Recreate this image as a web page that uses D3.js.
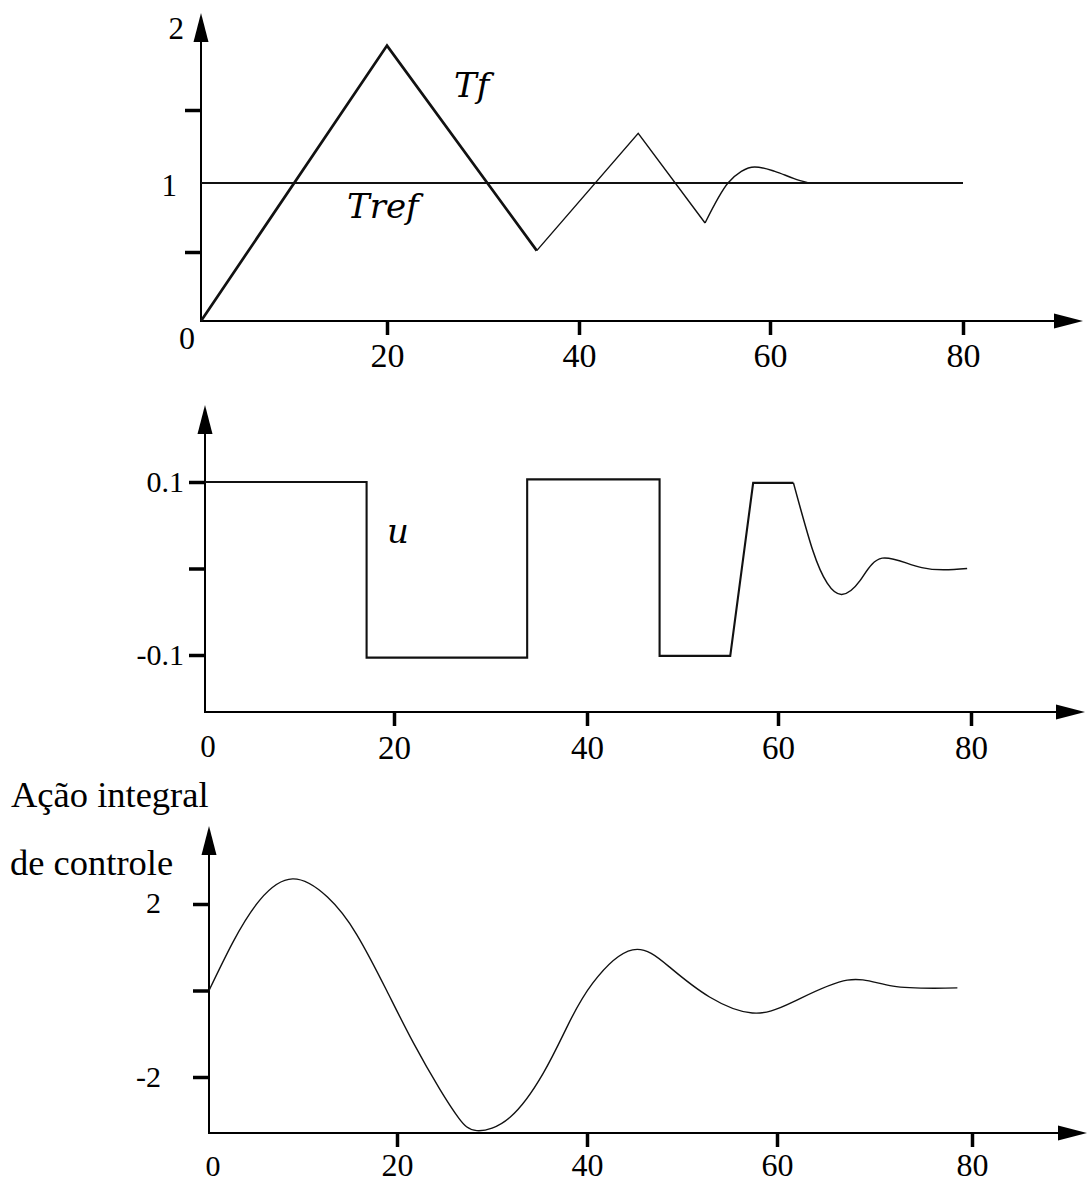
<!DOCTYPE html>
<html>
<head>
<meta charset="utf-8">
<script src="https://cdn.jsdelivr.net/npm/d3@7"></script>
<style>
  body { margin: 0; background: #fff; }
  svg text { font-family: "Liberation Serif", "Times New Roman", serif; fill: #000; }
  svg text.var { font-family: "DejaVu Serif", serif; font-style: italic; }
</style>
</head>
<body>
<div id="chart"></div>
<script>
// x ticks shared by the three panels
const xTicks = [20, 40, 60, 80];

// panel 1: Tf and Tref
const tfRampX = [0, 20.0, 35.6];
const tfRampY = [0, 1.96, 0.51];
const tfOscX = [35.6, 46.2, 53.2];
const tfOscY = [0.51, 1.34, 0.71];
const tfTailX = [53.2, 55.6, 57.0, 58.4, 60.5, 62.5, 64.0];
const tfTailY = [0.71, 1.0, 1.08, 1.11, 1.08, 1.03, 1.0];
const trefX = [0, 80];
const trefY = [1, 1];
const p1Ticks = [0.5, 1.5];

// panel 2: u
const uStepX = [0, 17.1, 17.1, 33.8, 33.8, 47.6, 47.6, 55.0, 57.4, 61.6];
const uStepY = [0.1, 0.1, -0.103, -0.103, 0.103, 0.103, -0.101, -0.101, 0.099, 0.099];
const uTailX = [61.6, 63.6, 65.1, 66.6, 68.5, 70.8, 74.9, 79.6];
const uTailY = [0.099, 0.021, -0.017, -0.030, -0.014, 0.012, 0.001, 0.0];
const p2Ticks = [-0.1, 0, 0.1];

// panel 3: integral control action
const intX = [0, 2.55, 5.4, 8.9, 12.6, 15.7, 18.9, 21.7, 24.5, 26.5, 28.4, 31.9, 35.4, 37.9, 40.6, 44.8, 48.7, 52.9, 57.4, 61.6, 67.2, 71.9, 78.5];
const intY = [0, 1.12, 2.09, 2.58, 2.16, 1.30, 0.0, -1.20, -2.28, -2.95, -3.24, -2.93, -1.91, -0.84, 0.17, 0.94, 0.54, -0.15, -0.52, -0.27, 0.24, 0.10, 0.06];
const p3Ticks = [-2, 0, 2];

const zip = (xs, ys) => xs.map((x, i) => [x, ys[i]]);

const svg = d3.select('#chart')
  .append('svg')
  .attr('width', 1087)
  .attr('height', 1182);

function drawFrame(p) {
  const g = svg.append('g');
  const x0 = p.x(0);

  // y axis + arrow
  g.append('line')
    .attr('x1', x0).attr('x2', x0)
    .attr('y1', p.axisY + 1).attr('y2', p.yTip + 20)
    .attr('stroke', '#000').attr('stroke-width', 2);
  g.append('path')
    .attr('d', `M${x0},${p.yTip}L${x0 - 7.5},${p.yTip + 29}L${x0 + 7.5},${p.yTip + 29}Z`)
    .attr('fill', '#000');

  // x axis + arrow
  g.append('line')
    .attr('x1', x0 - 1).attr('x2', p.xTip - 20)
    .attr('y1', p.axisY).attr('y2', p.axisY)
    .attr('stroke', '#000').attr('stroke-width', 2);
  g.append('path')
    .attr('d', `M${p.xTip},${p.axisY}L${p.xTip - 29},${p.axisY - 7.5}L${p.xTip - 29},${p.axisY + 7.5}Z`)
    .attr('fill', '#000');

  // x ticks
  const xa = g.append('g')
    .attr('transform', `translate(0,${p.axisY})`)
    .call(d3.axisBottom(p.x).tickValues(xTicks).tickSize(14).tickSizeOuter(0).tickPadding(p.xPad))
    .attr('font-family', null)
    .attr('font-size', p.xFont);
  xa.select('.domain').remove();
  xa.selectAll('.tick line').attr('stroke-width', 3.5);

  // y ticks
  const ya = g.append('g')
    .attr('transform', `translate(${x0},0)`)
    .call(d3.axisLeft(p.y).tickValues(p.yTicks).tickSize(16).tickSizeOuter(0).tickFormat(''));
  ya.select('.domain').remove();
  ya.selectAll('.tick line').attr('stroke-width', 3.5);

  // origin "0"
  g.append('text')
    .attr('x', p.zero[0]).attr('y', p.zero[1])
    .attr('text-anchor', 'middle')
    .attr('font-size', p.xFont - 2)
    .text('0');

  // y labels
  p.yLabels.forEach(([txt, lx, ly, fs]) => {
    g.append('text')
      .attr('x', lx).attr('y', ly)
      .attr('text-anchor', 'end')
      .attr('font-size', fs)
      .text(txt);
  });
  return g;
}

function drawLine(g, p, pts, width, curve) {
  g.append('path')
    .datum(pts)
    .attr('fill', 'none')
    .attr('stroke', '#111')
    .attr('stroke-width', width)
    .attr('stroke-linejoin', 'miter')
    .attr('d', d3.line().x((d) => p.x(d[0])).y((d) => p.y(d[1])).curve(curve || d3.curveLinear));
}

// ---- panel 1
const p1 = {
  x: d3.scaleLinear().domain([0, 20, 40, 60, 80]).range([201, 387, 579, 770, 963]),
  y: d3.scaleLinear().domain([0, 0.5, 1, 1.5, 2]).range([321, 252, 183, 110, 40]),
  axisY: 321, yTip: 13, xTip: 1083,
  yTicks: p1Ticks, xPad: 8, xFont: 34,
  zero: [187, 349],
  yLabels: [['2', 184, 39, 31], ['1', 177, 196, 31]],
};
const g1 = drawFrame(p1);
drawLine(g1, p1, zip(trefX, trefY), 2.2);
drawLine(g1, p1, zip(tfRampX, tfRampY), 2.7);
drawLine(g1, p1, zip(tfOscX, tfOscY), 1.4);
drawLine(g1, p1, zip(tfTailX, tfTailY), 1.4, d3.curveMonotoneX);
g1.append('text').attr('class', 'var').attr('x', 454).attr('y', 97).attr('font-size', 34).text('Tf');
g1.append('text').attr('class', 'var').attr('x', 347).attr('y', 218).attr('font-size', 34).text('Tref');

// ---- panel 2
const p2 = {
  x: d3.scaleLinear().domain([0, 20, 40, 60, 80]).range([205, 394, 587, 778, 971]),
  y: d3.scaleLinear().domain([-0.1, 0.1]).range([655, 482]),
  axisY: 712, yTip: 405, xTip: 1085,
  yTicks: p2Ticks, xPad: 10, xFont: 33,
  zero: [208, 757],
  yLabels: [['0.1', 184, 492, 30], ['-0.1', 184, 665, 30]],
};
const g2 = drawFrame(p2);
drawLine(g2, p2, zip(uStepX, uStepY), 2.1);
drawLine(g2, p2, zip(uTailX, uTailY), 1.5, d3.curveNatural);
g2.append('text').attr('class', 'var').attr('x', 387).attr('y', 543).attr('font-size', 34).text('u');

// ---- panel 3
const p3 = {
  x: d3.scaleLinear().domain([0, 20, 40, 60, 80]).range([209, 397, 587, 777, 972]),
  y: d3.scaleLinear().domain([-2, 2]).range([1077, 904]),
  axisY: 1133, yTip: 826, xTip: 1087,
  yTicks: p3Ticks, xPad: 6, xFont: 32,
  zero: [213, 1176],
  yLabels: [['2', 161, 913, 30], ['-2', 161, 1087, 30]],
};
const g3 = drawFrame(p3);
drawLine(g3, p3, zip(intX, intY), 1.4, d3.curveNatural);
g3.append('text').attr('x', 11).attr('y', 807).attr('font-size', 36.5).text('Ação integral');
g3.append('text').attr('x', 10).attr('y', 875).attr('font-size', 36.5).text('de controle');
</script>
</body>
</html>
